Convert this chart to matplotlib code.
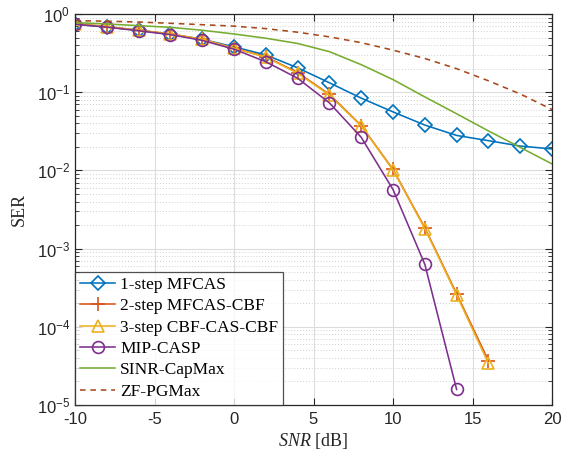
#-*-coding:UTF-8-*-
import matplotlib
matplotlib.use('Agg')
import matplotlib.pyplot as plt
import matplotlib.ticker as ticker
import numpy as np

# SNR grid (dB)
snr = [-10, -8, -6, -4, -2, 0, 2, 4, 6, 8, 10, 12, 14, 16, 18, 20]

# SER curves
serMfcas = [0.74, 0.68, 0.62, 0.55, 0.475, 0.38, 0.30, 0.205, 0.132, 0.084,
			0.056, 0.038, 0.028, 0.024, 0.0205, 0.0188]
serMfcasCbf = [0.75, 0.69, 0.62, 0.555, 0.475, 0.365, 0.285, 0.178, 0.094, 0.0375,
			0.0103, 0.00185, 0.000265, 0.000037]
serCbfCasCbf = [0.75, 0.69, 0.62, 0.555, 0.475, 0.365, 0.28, 0.175, 0.092, 0.037,
			0.0101, 0.0018, 0.000255, 0.000034]
serMipCasp = [0.74, 0.68, 0.61, 0.545, 0.46, 0.355, 0.245, 0.151, 0.073, 0.0265,
			0.0057, 0.00063, 0.0000158]
serSinrCapMax = [0.775, 0.745, 0.71, 0.675, 0.62, 0.555, 0.49, 0.42, 0.33, 0.225,
			0.145, 0.087, 0.053, 0.032, 0.0197, 0.0121]
serZfPgMax = [0.82, 0.81, 0.79, 0.76, 0.73, 0.70, 0.65, 0.585, 0.51, 0.43,
			0.345, 0.27, 0.20, 0.14, 0.095, 0.060]

legendNames = ['1-step MFCAS', '2-step MFCAS-CBF', '3-step CBF-CAS-CBF',
			'MIP-CASP', 'SINR-CapMax', 'ZF-PGMax']

plt.rcParams['mathtext.fontset'] = 'custom'
plt.rcParams['mathtext.rm'] = 'Liberation Sans'
plt.rcParams['mathtext.it'] = 'Liberation Serif:italic'
plt.rcParams['font.family'] = 'Liberation Sans'
plt.rcParams['axes.unicode_minus'] = False

SERIF = 'Liberation Serif'
LW = 1.15

fig = plt.figure(figsize=(5.61, 4.59), dpi=100)
ax = fig.add_axes([0.1337, 0.1176, 0.8503, 0.8519])

ax.semilogy(snr, serMfcas, color='#0072BD', lw=LW, marker='D', ms=7,
			mfc='none', mew=1.2, label=legendNames[0])
ax.semilogy(snr[:len(serMfcasCbf)], serMfcasCbf, color='#D95319', lw=LW, marker='+',
			ms=10, mew=1.2, label=legendNames[1])
ax.semilogy(snr[:len(serCbfCasCbf)], serCbfCasCbf, color='#EDB120', lw=LW, marker='^',
			ms=9, mfc='none', mew=1.2, label=legendNames[2])
ax.semilogy(snr[:len(serMipCasp)], serMipCasp, color='#7E2F8E', lw=LW, marker='o',
			ms=8.5, mfc='none', mew=1.2, label=legendNames[3])
ax.semilogy(snr, serSinrCapMax, color='#77AC30', lw=LW, label=legendNames[4])
ax.semilogy(snr, serZfPgMax, color='#A8481A', lw=LW, ls=(0, (3.5, 3)), label=legendNames[5])

ax.set_xlim(-10, 20)
ax.set_ylim(1e-5, 1)
ax.set_xticks([-10, -5, 0, 5, 10, 15, 20])
ax.yaxis.set_major_locator(ticker.LogLocator(base=10, numticks=10))
ax.yaxis.set_minor_locator(ticker.LogLocator(base=10, subs=np.arange(2, 10), numticks=20))
ax.yaxis.set_major_formatter(ticker.FuncFormatter(lambda v, p: r'$\mathregular{10^{%d}}$' % int(round(np.log10(v)))))
ax.yaxis.set_minor_formatter(ticker.NullFormatter())

ax.grid(True, which='major', color='#DCDCDC', lw=0.8, ls='-')
ax.grid(True, which='minor', axis='y', color='#D0D0D0', lw=0.7, ls=(0, (1, 2)))
ax.set_axisbelow(True)

ax.tick_params(which='both', direction='in', top=True, right=True, colors='#262626',
			labelsize=12)
ax.tick_params(which='major', length=5, width=0.8)
ax.tick_params(which='minor', length=3, width=0.6)
ax.tick_params(axis='x', pad=5)
for sp in ax.spines.values():
	sp.set_color('#262626')
	sp.set_linewidth(0.9)

ax.set_xlabel(r'$SNR$ [dB]', family=SERIF, fontsize=13, color='#262626', labelpad=3)
ax.set_ylabel('SER', family=SERIF, fontsize=13, color='#262626', labelpad=6)

leg = ax.legend(loc='lower left', borderaxespad=0, prop={'family': SERIF, 'size': 12.5},
			frameon=True, fancybox=False, edgecolor='#262626', handlelength=2.0,
			handletextpad=0.3, labelspacing=0.3, borderpad=0.3)
leg.get_frame().set_linewidth(0.9)

fig.savefig('out.png', dpi=100)
